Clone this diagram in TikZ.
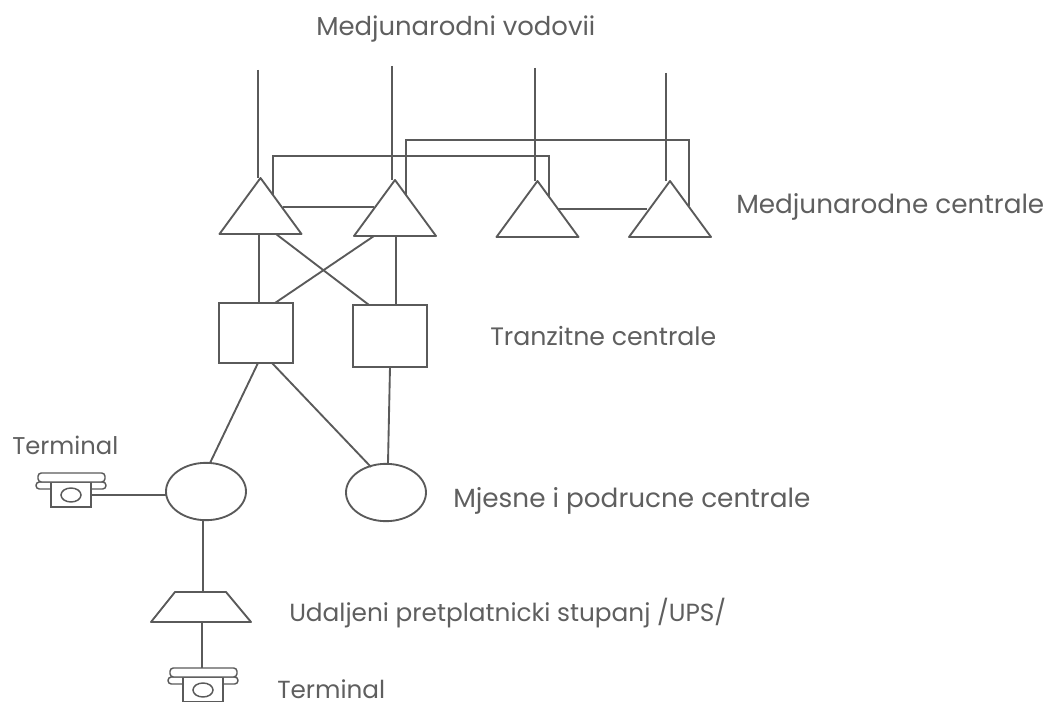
\documentclass[tikz,border=0pt]{standalone}
\usepackage{fontspec}
\setmainfont{Poppins}
\usetikzlibrary{shapes.geometric}
\definecolor{ink}{HTML}{5A5A5A}
\definecolor{txt}{HTML}{5F5F5F}
\tikzset{
  x=0.75pt,y=-0.75pt,
  wire/.style={draw=ink,line width=1.4pt},
  thin wire/.style={draw=ink,line width=1.1pt},
  tribox/.style={inner sep=0pt,outer sep=0pt,minimum width=61.5pt,minimum height=42pt},
  square/.style={draw=ink,line width=1.4pt,inner sep=0pt,outer sep=0pt,minimum width=55.5pt},
  round box/.style={draw=ink,line width=1.4pt,ellipse,inner sep=0pt,outer sep=0pt,minimum width=60pt,minimum height=43pt},
  label/.style={anchor=base west,inner sep=0pt,text=txt,font=\fontsize{15.5pt}{18pt}\selectfont},
  phonepart/.style={draw=ink,line width=1.1pt,fill=white},
}
\newcommand{\fitted}[2]{\resizebox{#1pt}{!}{#2}}
\newcommand{\drawtri}[1]{\draw[wire,fill=white,line join=round] (#1.north) -- (#1.south east) -- (#1.south west) -- cycle;}
\newcommand{\phone}[3]{% name, x, y (centre of dial)
  \node[inner sep=0pt,outer sep=0pt,minimum width=30pt,minimum height=18pt] (#1) at (#2,#3) {};
  \draw[phonepart,rounded corners=2.5pt] (#2-35,#3-13) rectangle (#2+35,#3-6);
  \draw[phonepart] (#2-20,#3-13) rectangle (#2+20,#3+12);
  \draw[phonepart,rounded corners=2.5pt] (#2-33,#3-22) rectangle (#2+34,#3-13);
  \draw[phonepart] (#2,#3) ellipse (10 and 7);
}
\begin{document}
\begin{tikzpicture}
\useasboundingbox (0,0) rectangle (1046,702);
\fill[white] (0,0) rectangle (1046,702);

\coordinate (l1) at (258,70);
\coordinate (l2) at (392,66);
\coordinate (l3) at (535,68);
\coordinate (l4) at (666,73);

\node[tribox] (t1) at (260.5,206) {};
\node[tribox] (t2) at (395,208) {};
\node[tribox] (t3) at (537.5,209) {};
\node[tribox] (t4) at (670,209) {};

\draw[wire] (l1) -- (l1 |- t1.north);
\draw[wire] (l2) -- (l2 |- t2.north);
\draw[wire] (l3) -- (l3 |- t3.north);
\draw[wire] (l4) -- (l4 |- t4.north);

\coordinate (a1) at (273,196);
\coordinate (a2) at (273,156);
\coordinate (a3) at (549,156);
\coordinate (a4) at (549,199);
\coordinate (b1) at (406,198);
\coordinate (b2) at (406,140);
\coordinate (b3) at (689,140);
\coordinate (b4) at (689,206);
\draw[thin wire] (a1) -- (a2) -- (a3) -- (a4);
\draw[thin wire] (b1) -- (b2) -- (b3) -- (b4);
\coordinate (c1) at (283,207);
\coordinate (c2) at (374,207);
\coordinate (d1) at (557,209);
\coordinate (d2) at (647,209);
\draw[thin wire] (c1) -- (c2);
\draw[thin wire] (d1) -- (d2);

\drawtri{t1}\drawtri{t2}\drawtri{t3}\drawtri{t4}

\node[square,minimum height=45pt] (s1) at (256,333) {};
\node[square,minimum height=46.5pt] (s2) at (390,336) {};
\node[round box] (o1) at (206,491.5) {};
\node[round box] (o2) at (386,492.5) {};
\node[inner sep=0pt,outer sep=0pt,minimum width=75pt,minimum height=22.5pt] (u) at (201,607) {};
\draw[wire,line join=round] (175,592) coordinate (u1) -- (226,592) coordinate (u2) -- (u.south east) -- (u.south west) -- cycle;

\coordinate (x1) at (276,234);
\coordinate (x2) at (369,305);
\coordinate (x3) at (374,236);
\coordinate (x4) at (275,303);
\draw[wire] (x1) -- (x2);
\draw[wire] (x3) -- (x4);
\draw[wire] (259,234) coordinate (v1) -- (v1 |- s1.north);
\draw[wire] (396,236) coordinate (v2) -- (v2 |- s2.north);
\coordinate (y1) at (258,363);
\coordinate (y2) at (210,463);
\coordinate (y3) at (272,363);
\coordinate (y4) at (371,467);
\coordinate (y5) at (390,367);
\coordinate (y6) at (388,463);
\draw[wire] (y1) -- (y2);
\draw[wire] (y3) -- (y4);
\draw[wire] (y5) -- (y6);

\phone{p1}{71}{495}
\phone{p2}{203}{690}
\draw[wire] (p1.east) -- (o1.west |- p1.east);
\draw[wire] (o1.south -| 203,0) -- (u.north -| 203,0);
\draw[wire] (u.south -| 202,0) -- (202,668);

\node[label] (n1) at (316,36) {\fitted{209.25}{Medjunarodni vodovii}};
\node[label] (n2) at (736,214) {\fitted{231}{Medjunarodne centrale}};
\node[label] (n3) at (490,345) {\fitted{169.5}{Tranzitne centrale}};
\node[label] (n4) at (453,507) {\fitted{267.75}{Mjesne i podrucne centrale}};
\node[label] (n5) at (289,621) {\fitted{327.75}{Udaljeni pretplatnicki stupanj /UPS/}};
\node[label] (n6) at (12,454) {\fitted{79.5}{Terminal}};
\node[label] (n7) at (277,698) {\fitted{81}{Terminal}};
\end{tikzpicture}
\end{document}
